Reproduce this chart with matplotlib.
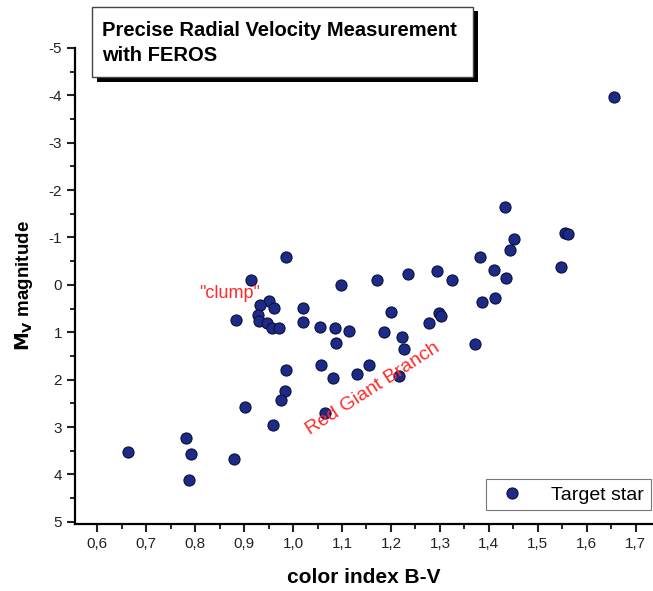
import matplotlib
matplotlib.use('Agg')
import matplotlib.pyplot as plt
from matplotlib.patches import Rectangle
from matplotlib.ticker import MultipleLocator, FuncFormatter

plt.rcParams['font.family'] = ['Liberation Sans', 'DejaVu Sans']

# colour index B-V and absolute magnitude M_V of the target stars
bv = [0.985, 0.914, 1.098, 0.950, 0.933, 0.962, 1.021, 0.884, 0.929, 0.931,
      0.946, 0.957, 0.971, 1.020, 1.055, 1.086, 1.114, 1.087, 0.986, 1.057,
      1.082, 1.130, 0.984, 0.975, 0.901, 0.959, 1.065, 0.781, 0.663, 0.792,
      0.880, 0.788, 1.433, 1.555, 1.562, 1.452, 1.443, 1.382, 1.547, 1.410,
      1.434, 1.293, 1.235, 1.325, 1.172, 1.385, 1.412, 1.200, 1.299, 1.303,
      1.278, 1.186, 1.223, 1.227, 1.371, 1.156, 1.217, 1.656]
mv = [-0.58, -0.11, 0.00, 0.35, 0.42, 0.48, 0.49, 0.75, 0.63, 0.76,
      0.80, 0.90, 0.90, 0.78, 0.89, 0.90, 0.97, 1.23, 1.80, 1.69,
      1.96, 1.89, 2.24, 2.43, 2.57, 2.95, 2.70, 3.24, 3.52, 3.57,
      3.67, 4.12, -1.65, -1.09, -1.07, -0.97, -0.73, -0.58, -0.37, -0.31,
      -0.15, -0.30, -0.23, -0.10, -0.11, 0.37, 0.27, 0.58, 0.60, 0.65,
      0.80, 0.99, 1.09, 1.36, 1.25, 1.69, 1.92, -3.96]

fig = plt.figure(figsize=(6.53, 5.91), dpi=100)
ax = fig.add_axes([0.115, 0.113, 0.885, 0.806])

ax.plot(bv, mv, 'o', ms=8, color='#1d2b86', mec='#0b1040', mew=0.8,
        label='Target star', zorder=3)

ax.set_xlim(0.555, 1.735)
ax.set_ylim(5.05, -5)

ax.spines['top'].set_visible(False)
ax.spines['right'].set_visible(False)
ax.spines['left'].set_linewidth(1.6)
ax.spines['bottom'].set_linewidth(1.6)

ax.xaxis.set_major_locator(MultipleLocator(0.1))
ax.xaxis.set_minor_locator(MultipleLocator(0.05))
ax.yaxis.set_major_locator(MultipleLocator(1))
ax.yaxis.set_minor_locator(MultipleLocator(0.5))
ax.xaxis.set_major_formatter(FuncFormatter(lambda v, p: f'{v:.1f}'.replace('.', ',')))
ax.yaxis.set_major_formatter(FuncFormatter(lambda v, p: '0' if abs(v) < 0.5 else f'{v:.0f}'))
ax.tick_params(which='major', direction='out', length=6, width=1.5, labelsize=11, colors='#222222')
ax.tick_params(which='minor', direction='out', length=3.5, width=1.2)

ax.set_xlabel('color index B-V', fontsize=15, fontweight='bold', labelpad=12)
ax.set_ylabel(r'$\mathbf{M_V}$ magnitude', fontsize=13.5, fontweight='bold', labelpad=10)

ax.text(0.871, 0.19, '"clump"', color='#ff2a2a', fontsize=13, ha='center', va='center')
ax.text(1.163, 2.2, 'Red Giant Branch', color='#ff2a2a', fontsize=14,
        ha='center', va='center', rotation=33)

# title box with a drop shadow
shadow = Rectangle((97 / 653, 1 - 82 / 591), 381 / 653, 71 / 591, transform=fig.transFigure,
                   facecolor='black', edgecolor='none', zorder=4)
box = Rectangle((92 / 653, 1 - 77 / 591), 381 / 653, 70 / 591, transform=fig.transFigure,
                facecolor='white', edgecolor='#444444', lw=1.0, zorder=5)
fig.patches.extend([shadow, box])
fig.text(102 / 653, 1 - 43 / 591, 'Precise Radial Velocity Measurement\nwith FEROS',
         fontsize=14.5, fontweight='bold', ha='left', va='center', linespacing=1.45, zorder=6)

leg = ax.legend(loc='lower right', bbox_to_anchor=(1.0, 0.025), fontsize=14,
                frameon=True, fancybox=False, edgecolor='#555555',
                handletextpad=1.0, borderpad=0.35, borderaxespad=0.1)
leg.get_frame().set_linewidth(0.8)

fig.savefig('out.png', dpi=100)
